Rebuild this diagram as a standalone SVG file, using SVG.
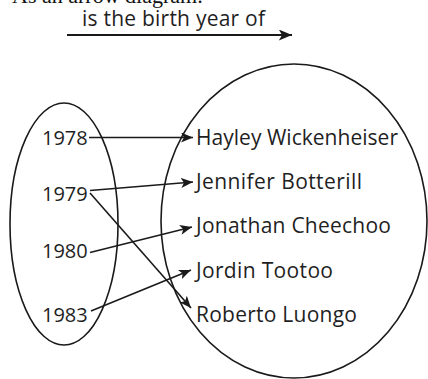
<svg xmlns="http://www.w3.org/2000/svg" width="428" height="379" viewBox="0 0 428 379">
<defs>
<marker id="ah" viewBox="0 0 12 10" refX="12" refY="5" markerWidth="12" markerHeight="10" markerUnits="userSpaceOnUse" orient="auto">
<path d="M0,0 L12,5 L0,10 L3,5 Z" fill="#1a1a1a"/>
</marker>
<marker id="ahb" viewBox="0 0 12 10" refX="12" refY="5" markerWidth="14" markerHeight="11" markerUnits="userSpaceOnUse" orient="auto">
<path d="M0,0 L12,5 L0,10 L3,5 Z" fill="#1a1a1a"/>
</marker>
</defs>
<style>
.t{font-family:"Open Sans","DejaVu Sans",sans-serif;font-size:21px;fill:#1f1f1f}
.n{font-size:20px}
.e{fill:none;stroke:#1a1a1a;stroke-width:1.6}
.c line{stroke:#1a1a1a;stroke-width:1.6;marker-end:url(#ah)}
</style>
<rect width="428" height="379" fill="#fff"/>
<text x="12" y="3" style="font-family:'Liberation Serif',serif;font-size:22px;fill:#111">As an arrow diagram:</text>
<g id="relation">
<text class="t" x="82" y="26" textLength="183">is the birth year of</text>
<line x1="67" y1="35" x2="292" y2="35" stroke="#1a1a1a" stroke-width="1.8" marker-end="url(#ahb)"/>
</g>
<g id="domain">
<ellipse class="e" cx="64" cy="224" rx="54" ry="121"/>
</g>
<g id="range">
<ellipse class="e" cx="294" cy="221" rx="133" ry="157"/>
</g>
<g id="y1978"><text class="t n" x="42" y="145">1978</text></g>
<g id="y1979"><text class="t n" x="42" y="201">1979</text></g>
<g id="y1980"><text class="t n" x="42" y="258">1980</text></g>
<g id="y1983"><text class="t n" x="42" y="322">1983</text></g>
<g id="hayley"><text class="t" x="196" y="145" textLength="202">Hayley Wickenheiser</text></g>
<g id="jennifer"><text class="t" x="196" y="189" textLength="166">Jennifer Botterill</text></g>
<g id="jonathan"><text class="t" x="196" y="233" textLength="195">Jonathan Cheechoo</text></g>
<g id="jordin"><text class="t" x="196" y="278" textLength="137">Jordin Tootoo</text></g>
<g id="roberto"><text class="t" x="196" y="322" textLength="161">Roberto Luongo</text></g>
<g id="connectors" class="c">
<line x1="89" y1="137.5" x2="193" y2="137.5"/>
<line x1="90" y1="190.5" x2="193" y2="182"/>
<line x1="90" y1="193" x2="191" y2="308"/>
<line x1="90" y1="252.5" x2="192" y2="227"/>
<line x1="91" y1="311" x2="191" y2="270"/>
</g>
</svg>
